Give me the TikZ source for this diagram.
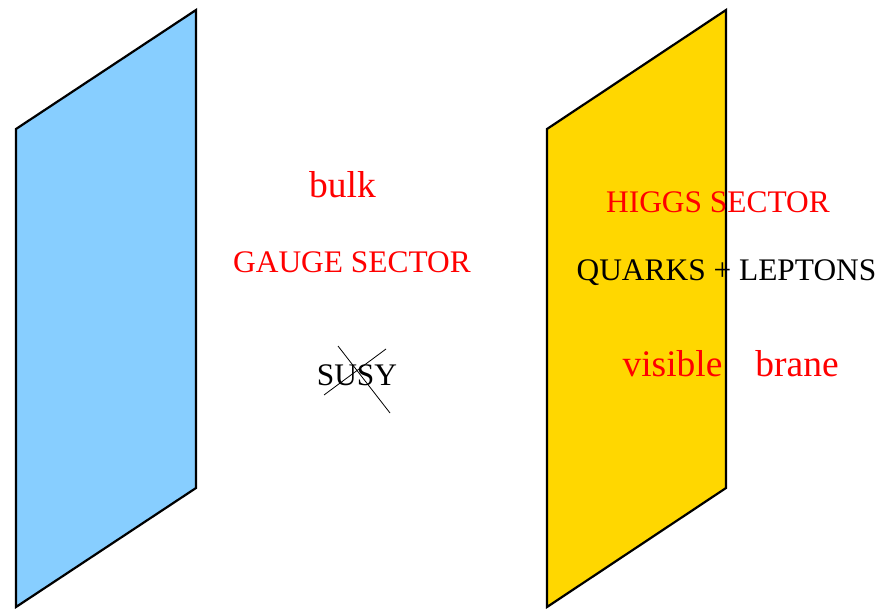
\documentclass[tikz,border=0pt]{standalone}
\usepackage{fontspec}
\setmainfont{Liberation Serif}
\definecolor{bluebrane}{RGB}{135,206,255}
\definecolor{goldbrane}{RGB}{255,215,0}
\definecolor{redtxt}{RGB}{255,0,0}
\begin{document}
\begin{tikzpicture}[x=1pt,y=-1pt,
  brane/.style={draw=black,line width=2.2pt,line join=miter},
  lbl/.style={inner sep=0pt,anchor=base,font=\fontsize{31.4}{31.4}\selectfont},
  biglbl/.style={inner sep=0pt,anchor=base,font=\fontsize{37.5}{37.5}\selectfont},
  crossline/.style={draw=black,line width=0.8pt}]
\useasboundingbox (0,0) rectangle (877,609);
\filldraw[brane,fill=bluebrane] (16,129) -- (196,10) -- (196,488) -- (16,607) -- cycle;
\filldraw[brane,fill=goldbrane] (547,129) -- (726,10) -- (726,488) -- (547,607) -- cycle;
\node[biglbl,text=redtxt] (bulk) at (342.5,197.5) {bulk};
\node[lbl,text=redtxt] (gauge) at (352,272.5) {GAUGE SECTOR};
\node[lbl] (susy) at (357,385.5) {SUSY};
\coordinate (c1a) at (338,346);
\coordinate (c1b) at (390,413);
\coordinate (c2a) at (386,349);
\coordinate (c2b) at (324,395);
\draw[crossline] (c1a) -- (c1b);
\draw[crossline] (c2a) -- (c2b);
\node[lbl,text=redtxt] (higgs) at (718,212.5) {HIGGS SECTOR};
\node[lbl] (quarks) at (726.5,280.5) {QUARKS + LEPTONS};
\node[biglbl,text=redtxt] (visible) at (672.5,376.5) {visible};
\node[biglbl,text=redtxt] (brane) at (797,376.5) {brane};
\end{tikzpicture}
\end{document}
